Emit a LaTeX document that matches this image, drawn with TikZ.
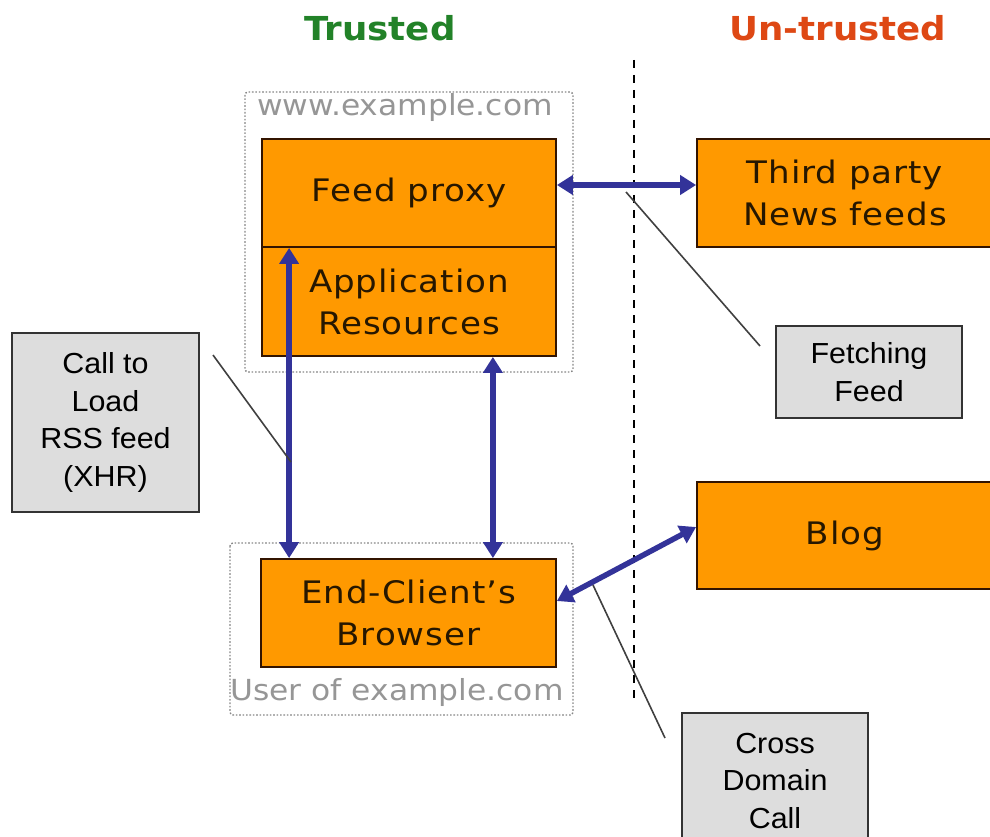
\documentclass[tikz,border=0pt]{standalone}
\usepackage{fontspec}
\setmainfont[FakeStretch=1.08]{DejaVu Sans}
\newfontfamily\orfont[FakeStretch=1.1,LetterSpace=3]{DejaVu Sans}
\newfontfamily\arialf[FakeStretch=1.05]{Liberation Sans}
\usetikzlibrary{arrows.meta}
\definecolor{orng}{RGB}{255,153,0}
\definecolor{edge}{RGB}{51,20,0}
\definecolor{greyfill}{RGB}{221,221,221}
\definecolor{arrowblue}{RGB}{51,51,153}
\definecolor{trustgreen}{RGB}{34,130,40}
\definecolor{untrustred}{RGB}{222,72,20}
\definecolor{lbl}{RGB}{150,150,150}
\definecolor{dotc}{RGB}{135,135,135}
\tikzset{
  orangebox/.style={draw=edge,line width=1.8pt,fill=orng,align=center,inner sep=0pt,
    font=\orfont\fontsize{31}{42}\selectfont,text=black!85!orng},
  greybox/.style={draw=black!80,line width=1.8pt,fill=greyfill,align=center,inner sep=0pt,
    font=\arialf\fontsize{29}{37.5}\selectfont},
  domainbox/.style={draw=dotc,line width=1.4pt,dash pattern=on 1.6pt off 1.8pt,rounded corners=3pt},
  biarrow/.style={draw=arrowblue,line width=5.5pt,{Triangle[width=19pt,length=16pt]}-{Triangle[width=19pt,length=16pt]}},
  callout/.style={draw=black!75,line width=1.6pt},
  domlabel/.style={text=lbl,font=\fontsize{29}{34}\selectfont,inner sep=0pt}
}
\begin{document}
\begin{tikzpicture}[x=1pt,y=-1pt]
\useasboundingbox (0,0) rectangle (990,837);
\clip (0,0) rectangle (990,837);
% headings
\node[text=trustgreen,font=\bfseries\fontsize{33}{40}\selectfont] (trusted) at (380,28) {Trusted};
\node[text=untrustred,font=\bfseries\fontsize{33}{40}\selectfont] (untrusted) at (838,28) {Un-trusted};
% boundary
\coordinate (btop) at (634,60);
\coordinate (bbot) at (634,700);
\draw[black,line width=2pt,dash pattern=on 8pt off 7pt] (btop) -- (bbot);
% domain boxes
\draw[domainbox] (245,92) rectangle (573,372);
\node[domlabel] (www) at (405,108) {www.example.com};
\draw[domainbox] (230,543) rectangle (573,715);
\node[domlabel] (user) at (397,692) {User of example.com};
% orange boxes
\node[orangebox,minimum width=294pt,minimum height=108pt] (fp) at (409,193) {Feed proxy};
\node[orangebox,minimum width=294pt,minimum height=109pt] (ar) at (409,301.5) {Application\\Resources};
\node[orangebox,minimum width=296pt,minimum height=108pt] (tp) at (845,193) {Third party\\News feeds};
\node[orangebox,minimum width=296pt,minimum height=107pt] (blog) at (845,535.5) {Blog};
\node[orangebox,minimum width=295pt,minimum height=108pt] (br) at (408.5,613) {End-Client’s\\Browser};
% grey boxes
\node[greybox,minimum width=186pt,minimum height=92pt] (ff) at (869,372) {Fetching\\Feed};
\node[greybox,minimum width=187pt,minimum height=179pt] (call) at (105.5,422.5) {Call to\\Load\\RSS feed\\(XHR)};
\node[greybox,minimum width=186pt,minimum height=136pt] (cdc) at (775,781) {Cross\\Domain\\Call};
% arrows
\draw[biarrow] ([yshift=8pt]fp.east) -- ([yshift=8pt]tp.west);
\draw[biarrow] ([xshift=28pt]fp.south west) -- ([xshift=29pt]br.north west);
\draw[biarrow] ([xshift=-64pt]ar.south east) -- ([xshift=-64pt]br.north east);
\draw[biarrow] ([yshift=12pt]br.east) -- ([yshift=8.5pt]blog.west);
% callouts
\coordinate (ffend) at (760,346);
\coordinate (ffon) at (626,192);
\draw[callout] (ffon) -- (ffend);
\coordinate (callend) at (213,355);
\coordinate (callon) at (291,462);
\draw[callout] (callend) -- (callon);
\coordinate (cdcon) at (593,585);
\coordinate (cdcend) at (665,738);
\draw[callout] (cdcon) -- (cdcend);
\end{tikzpicture}
\end{document}
